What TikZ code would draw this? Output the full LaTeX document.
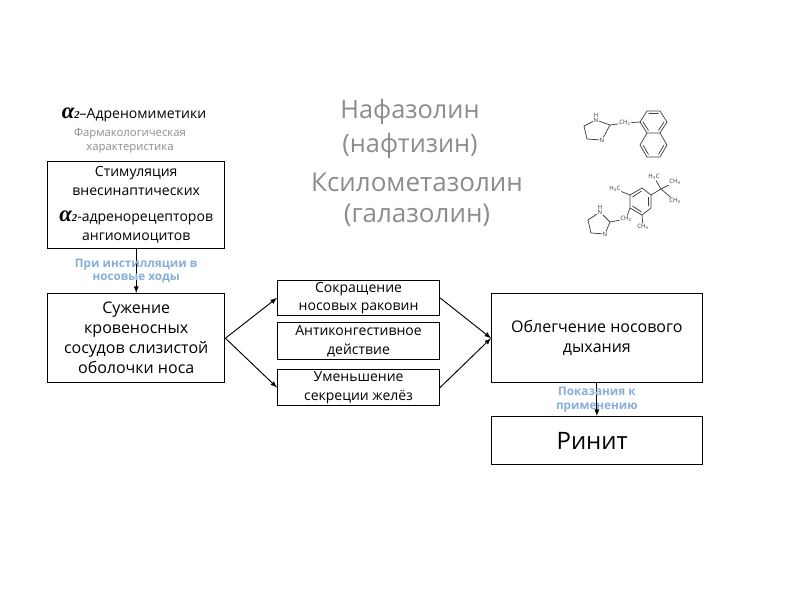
\documentclass[tikz,border=0pt]{standalone}
\usepackage{fontspec}
\setmainfont{Open Sans}
\newfontfamily\alphafont{Liberation Serif}
\usetikzlibrary{positioning}
\definecolor{labelblue}{HTML}{86AEDA}
\newcommand{\alphatwo}{{\alphafont\bfseries\itshape\fontsize{17}{17}\selectfont α\fontsize{8}{8}\selectfont 2}}
\tikzset{
	box/.style={draw, line width=0.8pt, anchor=north west, align=center, inner sep=0pt},
	mainlabel/.style={font=\fontsize{10.5}{14}\selectfont, align=center},
	greylabel/.style={text=black!45, align=center},
	bluelabel/.style={text=labelblue, font=\bfseries\fontsize{8.8}{10}\selectfont, align=center, inner sep=0pt},
	atom/.style={font=\fontsize{4.5}{5}\selectfont, text=black!80, inner sep=0.3pt},
	bond/.style={black!75, line width=0.55pt}
}
\begin{document}
\begin{tikzpicture}[x=0.75pt,y=-0.75pt,auto]
	\useasboundingbox (0,0) rectangle (800,600);
	% headings
	\node (adreno) at (134,115) {\fontsize{10.5}{13}\selectfont\alphatwo–Адреномиметики};
	\node[greylabel, font=\fontsize{8.5}{10.5}\selectfont] (farm) at (130,141) {Фармакологическая\\характеристика};
	\node[greylabel, font=\fontsize{19}{25}\selectfont] (nafaz) at (410,129) {Нафазолин\\(нафтизин)};
	\node[greylabel, font=\fontsize{19.5}{23.5}\selectfont] (ksilo) at (417,200) {Ксилометазолин\\(галазолин)};
	% boxes
	\node[box, minimum width=133pt, minimum height=65pt, font=\fontsize{10.5}{14}\selectfont] (stim) at (47,161)
		{Стимуляция\\внесинаптических\\[6pt]\alphatwo-адренорецепторов\\ангиомиоцитов};
	\node[box, minimum width=133pt, minimum height=67pt, font=\fontsize{12}{15}\selectfont] (suzh) at (47,293)
		{Сужение\\кровеносных\\сосудов слизистой\\оболочки носа};
	\node[box, minimum width=121.5pt, minimum height=26pt, mainlabel, text depth=2pt] (sokr) at (277,280) {Сокращение\\носовых раковин};
	\node[box, minimum width=121.5pt, minimum height=28pt, mainlabel] (anti) at (277,322) {Антиконгестивное\\действие};
	\node[box, minimum width=121.5pt, minimum height=27pt, mainlabel] (umen) at (277,369) {Уменьшение\\секреции желёз};
	\node[box, minimum width=158pt, minimum height=67pt, font=\fontsize{12}{15}\selectfont] (obleg) at (491,293) {Облегчение носового\\дыхания};
	\node[box, minimum width=158pt, minimum height=36pt, font=\fontsize{18}{22}\selectfont] (rinit) at (491,416) {Ринит\hspace*{7pt}};
	% connectors
	\path[->, >=latex, line width=0.7pt]
	(stim) edge node[bluelabel, midway, anchor=center] {При инстилляции в\\носовые ходы} (suzh)
	(suzh.east) edge (sokr.west)
	(suzh.east) edge (umen.west)
	(sokr.east) edge (obleg.west)
	(umen.east) edge (obleg.west)
	(obleg) edge node[bluelabel, midway, anchor=center] {Показания к\\применению} (rinit);
	% nafazoline
	\node[atom] (nh1) at (596,115) {H};
	\node[atom] (n1a) at (596,120) {N};
	\node[atom] (n1b) at (602,140) {N};
	\node[atom] (ch1) at (625,123) {CH\textsubscript{2}};
	\coordinate (c1a) at (610,125);
	\coordinate (c1b) at (587,139);
	\coordinate (c1c) at (584,126);
	\coordinate (r1) at (640,122);
	\coordinate (r2) at (647,111);
	\coordinate (r3) at (660,111);
	\coordinate (r4) at (667,122);
	\coordinate (r5) at (660,133);
	\coordinate (r6) at (647,133);
	\coordinate (r7) at (667,145);
	\coordinate (r8) at (660,157);
	\coordinate (r9) at (647,157);
	\coordinate (r10) at (640,145);
	\draw[bond] (n1a) -- (c1a) (c1a) -- (n1b) (n1b) -- (c1b) -- (c1c) -- (n1a) (c1a) -- (ch1) (ch1) -- (r1);
	\draw[bond] (r1) -- (r2) -- (r3) -- (r4) -- (r5) -- (r6) -- cycle (r5) -- (r7) -- (r8) -- (r9) -- (r10) -- (r6);
	\draw[bond] (648.5,113.5) -- (658.5,113.5) (664,122) -- (658.5,130.5) (648.5,130.5) -- (643,122)
		(664,145) -- (658.5,154.5) (648.5,154.5) -- (643,145);
	% xylometazoline
	\node[atom] (h3a) at (615,189) {H\textsubscript{3}C};
	\node[atom] (h3b) at (654,177) {H\textsubscript{3}C};
	\node[atom] (ch3a) at (675,182) {CH\textsubscript{3}};
	\node[atom] (ch3b) at (675,201) {CH\textsubscript{3}};
	\node[atom] (ch3c) at (643,227) {CH\textsubscript{3}};
	\node[atom] (ch2) at (626,219) {CH\textsubscript{2}};
	\node[atom] (nh2) at (600,207) {H};
	\node[atom] (n2a) at (600,212) {N};
	\node[atom] (n2b) at (605,234) {N};
	\coordinate (c2a) at (610,222);
	\coordinate (c2b) at (591,233);
	\coordinate (c2c) at (588,220);
	\coordinate (s1) at (630,195);
	\coordinate (s2) at (642,188);
	\coordinate (s3) at (651,195);
	\coordinate (s4) at (651,208);
	\coordinate (s5) at (642,215);
	\coordinate (s6) at (630,208);
	\coordinate (tc) at (661,189);
	\draw[bond] (s1) -- (s2) -- (s3) -- (s4) -- (s5) -- (s6) -- cycle;
	\draw[bond] (632.5,197) -- (641.5,191) (648.5,197) -- (648.5,206) (641.5,212) -- (632.5,206);
	\draw[bond] (s1) -- (h3a) (s3) -- (tc) (tc) -- (h3b) (tc) -- (ch3a) (tc) -- (ch3b) (s5) -- (ch3c) (s6) -- (ch2);
	\draw[bond] (n2a) -- (c2a) (c2a) -- (n2b) (n2b) -- (c2b) -- (c2c) -- (n2a) (c2a) -- (ch2);
\end{tikzpicture}
\end{document}
